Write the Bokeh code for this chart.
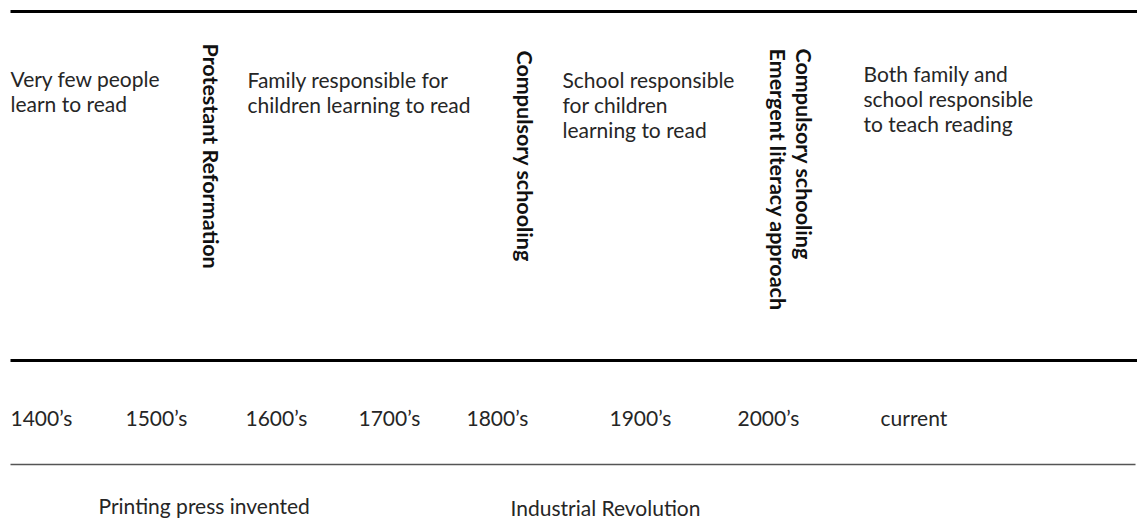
from math import pi
from bokeh.plotting import figure
from bokeh.models import Range1d
from bokeh.core.properties import value
from bokeh.embed import file_html
from bokeh.resources import INLINE

# ---- data ----
era_labels = [
    ["Very few people", "learn to read"],
    ["Family responsible for", "children learning to read"],
    ["School responsible", "for children", "learning to read"],
    ["Both family and", "school responsible", "to teach reading"],
]
event_labels = [
    ["Protestant Reformation"],
    ["Compulsory schooling"],
    ["Compulsory schooling", "Emergent literacy approach"],
]
period_labels = ["1400\u2019s", "1500\u2019s", "1600\u2019s", "1700\u2019s",
                 "1800\u2019s", "1900\u2019s", "2000\u2019s", "current"]
milestone_labels = ["Printing press invented", "Industrial Revolution"]

# ---- layout (page pixel coordinates) ----
W, H = 1137, 521
era_x = [10, 247, 562, 863]
era_y0 = [78, 78.5, 79, 72.5]
era_step = 25
event_x = [210, 524, 803]
event_y0 = [43, 50, 48]
event_step = -26
period_x = [10, 125, 245, 358, 466, 609, 737, 880]
period_y = 417
milestone_x = [98, 510]
milestone_y = [505, 507]

FONT = "Lato"
TXT = "#262626"

p = figure(width=W, height=H, x_range=Range1d(0, W), y_range=Range1d(H, 0),
           output_backend="svg", toolbar_location=None, min_border=0,
           x_axis_location=None, y_axis_location=None, outline_line_color=None)
p.grid.visible = False
p.background_fill_color = "white"
p.border_fill_color = "white"

# rules
p.segment(x0=[10, 10], y0=[11, 360], x1=[W, W], y1=[11, 360],
          line_color="black", line_width=3)
p.segment(x0=[10], y0=[464], x1=[W - 2], y1=[464], line_color="#555555", line_width=1.6)

# era texts
ex, ey, et = [], [], []
for lines, x0, y0 in zip(era_labels, era_x, era_y0):
    for i, t in enumerate(lines):
        ex.append(x0); ey.append(y0 + i * era_step); et.append(t)
p.text(x=ex, y=ey, text=et, text_font=value(FONT), text_font_size="21px",
       text_color=TXT, text_align="left", text_baseline="middle")

# vertical events
vx, vy, vt = [], [], []
for lines, x0, y0 in zip(event_labels, event_x, event_y0):
    for i, t in enumerate(lines):
        vx.append(x0 + i * event_step); vy.append(y0); vt.append(t)
p.text(x=vx, y=vy, text=vt, angle=-pi / 2, text_font=value(FONT), text_font_size="21.5px",
       text_font_style="bold", text_color="#111111", text_align="left",
       text_baseline="middle")

# periods
p.text(x=period_x, y=[period_y] * len(period_x), text=period_labels, text_font=value(FONT),
       text_font_size="21px", text_color=TXT, text_align="left",
       text_baseline="middle")

# milestones
p.text(x=milestone_x, y=milestone_y, text=milestone_labels, text_font=value(FONT),
       text_font_size="21px", text_color=TXT, text_align="left",
       text_baseline="middle")

open("out.html", "w").write(file_html(p, INLINE))
